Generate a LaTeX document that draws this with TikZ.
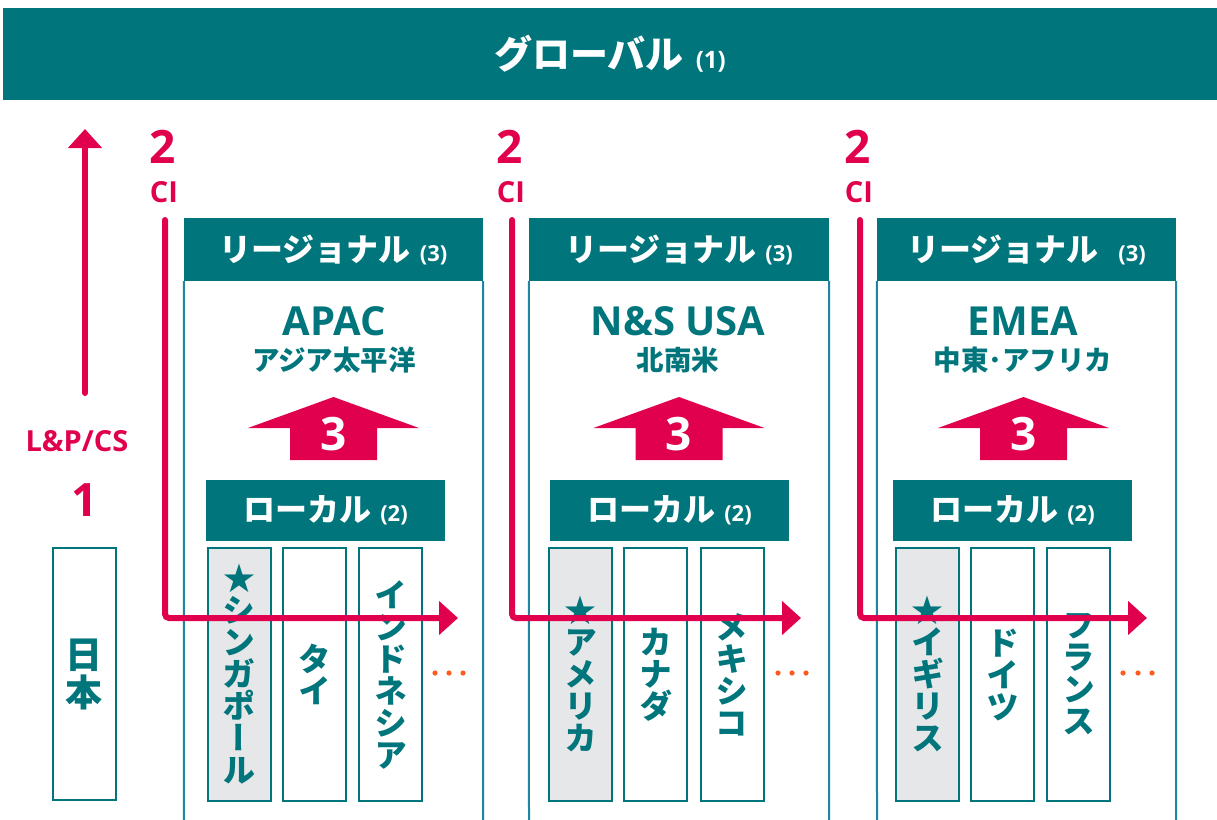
\documentclass[tikz,border=0pt]{standalone}
\usepackage{fontspec}
\setmainfont{Open Sans}
\newfontfamily\jp{Noto Sans CJK JP}
\newfontfamily\jpv[RawFeature=+vert]{Noto Sans CJK JP}
\usetikzlibrary{arrows.meta}
\definecolor{tealc}{HTML}{00767C}
\definecolor{pinkc}{HTML}{E0004D}
\definecolor{regline}{HTML}{1E86A0}
\definecolor{greyc}{HTML}{E6E7E8}
\definecolor{dotc}{HTML}{FF5A1F}
\newcommand{\myfs}[2]{\fontsize{#1}{#2}\selectfont}
\begin{document}
\begin{tikzpicture}[x=1pt,y=-1pt,
  hdr/.style={fill=tealc, text=white, inner sep=0, font=\bfseries},
  regside/.style={draw=regline, line width=2pt},
  cbox/.style={draw=tealc, line width=2pt, fill=white, minimum width=63, minimum height=253, inner sep=0, align=center, text=tealc, font=\jpv\bfseries\myfs{33}{32}},
  upbox/.style={fill=pinkc},
  ci/.style={draw=pinkc, line width=6pt, line cap=round, rounded corners=4pt, -{Triangle[width=33pt,length=19pt]}},
  pinklab/.style={text=pinkc, font=\bfseries, inner sep=0},
  regtitle/.style={text=tealc, font=\bfseries\myfs{40}{40}, inner sep=0},
  regsub/.style={text=tealc, font=\jp\bfseries\myfs{27.5}{27.5}, inner sep=0},
  dot/.style={fill=dotc}
]
\useasboundingbox (0,0) rectangle (1217,819);

% global banner
\node[hdr, minimum width=1214, minimum height=92] (glob) at (610,54)
  {{\jp\myfs{38}{38}グローバル}\hspace{12pt}{\myfs{24}{24}(1)}};

% left column
\coordinate (lpbot) at (85,393);
\coordinate (lptop) at (85,129);
\draw[ci] (lpbot) -- (lptop);
\node[pinklab, font=\bfseries\myfs{29}{29}] (lpcs) at (77,441) {L\&P/CS};
\node[pinklab, font=\bfseries\myfs{46}{46}] (one) at (85,500) {1};
\node[cbox, minimum height=252, font=\jp\bfseries\myfs{37}{38}] (japan) at (84,674) {日\\本};

% ---------- columns ----------
% column 1: APAC
\node[hdr, minimum width=299, minimum height=63] (r1) at (333.5,249.5)
  {{\jp\myfs{32}{32}リージョナル}\hspace{9pt}{\myfs{22}{22}(3)}};
\coordinate (r1bl) at (184,830);
\coordinate (r1br) at (483,830);
\draw[regside] (r1.south west) -- (r1bl);
\draw[regside] (r1.south east) -- (r1br);
\node[regtitle] (t1) at (334,321) {APAC};
\node[regsub] (s1) at (334,360) {アジア太平洋};
\fill[upbox] (248,428) -- (333.5,397) -- (419,428) -- (377,428) -- (377,460) -- (290,460) -- (290,428) -- cycle;
\node[text=white, font=\bfseries\myfs{46}{46}, inner sep=0] (u1) at (333.5,434) {3};
\node[hdr, minimum width=239, minimum height=61] (l1) at (325.5,510.5)
  {{\jp\myfs{32}{32}ローカル}\hspace{9pt}{\myfs{22}{22}(2)}};
\node[cbox, fill=greyc] (c11) at (239,674.5) {{\jp\myfs{32}{31}★}\\シ\\ン\\ガ\\ポ\\ー\\ル};
\node[cbox] (c12) at (314.5,674.5) {タ\\イ};
\node[cbox] (c13) at (390.5,674.5) {イ\\ン\\ド\\ネ\\シ\\ア};
\fill[dot] (435,673) circle (2.6);
\fill[dot] (449,673) circle (2.6);
\fill[dot] (463,673) circle (2.6);
\node[pinklab, font=\bfseries\myfs{46}{46}] (n1) at (163,147) {2};
\node[pinklab, font=\bfseries\myfs{29}{29}] (ci1) at (164,192) {CI};
\coordinate (ci1a) at (165,220);
\coordinate (ci1b) at (458,618);
\draw[ci] (ci1a) |- (ci1b);

% column 2: N&S USA
\node[hdr, minimum width=300, minimum height=63] (r2) at (679,249.5)
  {{\jp\myfs{32}{32}リージョナル}\hspace{9pt}{\myfs{22}{22}(3)}};
\coordinate (r2bl) at (529,830);
\coordinate (r2br) at (829,830);
\draw[regside] (r2.south west) -- (r2bl);
\draw[regside] (r2.south east) -- (r2br);
\node[regtitle] (t2) at (678,321) {N\&S USA};
\node[regsub] (s2) at (678,360) {北南米};
\fill[upbox] (593.5,428) -- (679,397) -- (764.5,428) -- (722.5,428) -- (722.5,460) -- (635.5,460) -- (635.5,428) -- cycle;
\node[text=white, font=\bfseries\myfs{46}{46}, inner sep=0] (u2) at (679,434) {3};
\node[hdr, minimum width=239, minimum height=61] (l2) at (669.5,510.5)
  {{\jp\myfs{32}{32}ローカル}\hspace{9pt}{\myfs{22}{22}(2)}};
\node[cbox, fill=greyc] (c21) at (580.5,674.5) {{\jp\myfs{32}{31}★}\\ア\\メ\\リ\\カ};
\node[cbox] (c22) at (655.5,674.5) {カ\\ナ\\ダ};
\node[cbox] (c23) at (732,674.5) {メ\\キ\\シ\\コ};
\fill[dot] (778,673) circle (2.6);
\fill[dot] (792,673) circle (2.6);
\fill[dot] (806,673) circle (2.6);
\node[pinklab, font=\bfseries\myfs{46}{46}] (n2) at (510,147) {2};
\node[pinklab, font=\bfseries\myfs{29}{29}] (ci2) at (511,192) {CI};
\coordinate (ci2a) at (512,220);
\coordinate (ci2b) at (801,618);
\draw[ci] (ci2a) |- (ci2b);

% column 3: EMEA
\node[hdr, minimum width=299, minimum height=63] (r3) at (1026.5,249.5)
  {{\jp\myfs{32}{32}リージョナル}\hspace{20pt}{\myfs{22}{22}(3)}};
\coordinate (r3bl) at (877,830);
\coordinate (r3br) at (1176,830);
\draw[regside] (r3.south west) -- (r3bl);
\draw[regside] (r3.south east) -- (r3br);
\node[regtitle] (t3) at (1023,321) {EMEA};
\node[regsub] (s3) at (1023,360) {中東･アフリカ};
\fill[upbox] (938,428) -- (1023.5,397) -- (1109,428) -- (1067,428) -- (1067,460) -- (980,460) -- (980,428) -- cycle;
\node[text=white, font=\bfseries\myfs{46}{46}, inner sep=0] (u3) at (1023.5,434) {3};
\node[hdr, minimum width=239, minimum height=61] (l3) at (1012.5,510.5)
  {{\jp\myfs{32}{32}ローカル}\hspace{9pt}{\myfs{22}{22}(2)}};
\node[cbox, fill=greyc] (c31) at (927.5,674.5) {{\jp\myfs{32}{31}★}\\イ\\ギ\\リ\\ス};
\node[cbox] (c32) at (1002.5,674.5) {ド\\イ\\ツ};
\node[cbox] (c33) at (1078.5,674.5) {フ\\ラ\\ン\\ス};
\fill[dot] (1123,673) circle (2.6);
\fill[dot] (1138,673) circle (2.6);
\fill[dot] (1152,673) circle (2.6);
\node[pinklab, font=\bfseries\myfs{46}{46}] (n3) at (858,147) {2};
\node[pinklab, font=\bfseries\myfs{29}{29}] (ci3) at (859,192) {CI};
\coordinate (ci3a) at (860,220);
\coordinate (ci3b) at (1147,618);
\draw[ci] (ci3a) |- (ci3b);
\end{tikzpicture}
\end{document}
